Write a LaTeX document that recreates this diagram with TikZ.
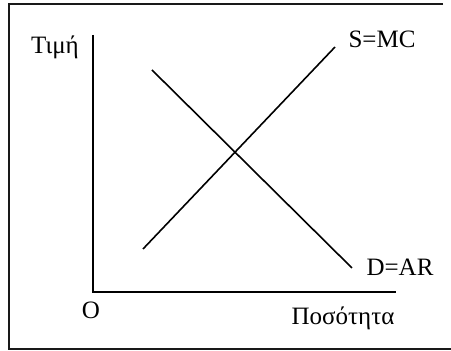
\documentclass[tikz,border=0pt]{standalone}
\usepackage{fontspec}
\setmainfont{Liberation Serif}
\usetikzlibrary{positioning}
\tikzset{
  axis/.style={line width=0.8pt, draw=black},
  curve/.style={line width=0.8pt, draw=black},
  frameline/.style={line width=1.1pt, draw=black!90},
  lbl/.style={font=\fontsize{12.5}{14}\selectfont, inner sep=0pt},
}

\begin{document}
\begin{tikzpicture}[x=0.5pt, y=-0.5pt]
    \useasboundingbox (0,0) rectangle (451,351);
    % frame
    \draw[frameline] (443,4) -- (9,4) -- (9,349) -- (451,349);

    % axes
    \coordinate (top) at (93,35);
    \coordinate (orig) at (93,292);
    \coordinate (right) at (396,292);
    \draw[axis] (top) -- (orig) -- (right);

    % supply and demand
    \coordinate (s0) at (143,249);
    \coordinate (s1) at (335,47);
    \coordinate (d0) at (152,70);
    \coordinate (d1) at (352,268);
    \draw[curve] (s0) -- (s1);
    \draw[curve] (d0) -- (d1);

    % labels
    \node[lbl] (price) at (55,47) {Τιμή};
    \node[lbl] (origin) at (91,310) {O};
    \node[lbl] (qty) at (343,318) {Ποσότητα};
    \node[lbl] (smc) at (382,39) {S=MC};
    \node[lbl] (dar) at (400,267) {D=AR};
\end{tikzpicture}
\end{document}
